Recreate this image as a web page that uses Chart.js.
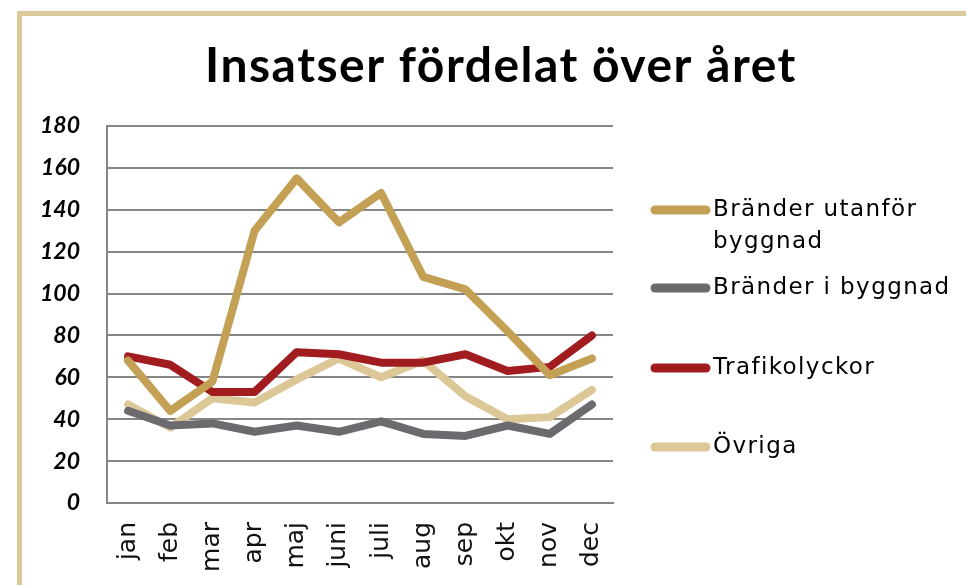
<!DOCTYPE html>
<html><head><meta charset="utf-8">
<script src="https://cdn.jsdelivr.net/npm/chart.js@4"></script>
<style>
html,body{margin:0;padding:0;background:#fff;overflow:hidden;}
#wrap{position:relative;width:966px;height:585px;}
#frame{position:absolute;left:17px;top:11px;width:1000px;height:700px;border-left:5px solid #DDCA9B;border-top:5px solid #DDCA9B;}
canvas{position:absolute;left:0;top:0;}
</style></head>
<body><div id="wrap"><div id="frame"></div><canvas id="c" width="966" height="585"></canvas></div>
<script>
const titleText = 'Insatser fördelat över året';
const months = ['jan','feb','mar','apr','maj','juni','juli','aug','sep','okt','nov','dec'];
const utanfor = [68,44,58,130,155,134,148,108,102,82,61,69];
const iByggnad = [44,37,38,34,37,34,39,33,32,37,33,47];
const trafik = [70,66,53,53,72,71,67,67,71,63,65,80];
const ovriga = [47,36,50,48,59,69,60,68,51,40,41,54];
const seriesNames = [['Bränder utanför','byggnad'],['Bränder i byggnad'],['Trafikolyckor'],['Övriga']];
const seriesColors = ['#C4A055','#6B6B6F','#A11C1F','#DCC796'];
const yTicks = [0,20,40,60,80,100,120,140,160,180];

const TFONT = "'Lato','DejaVu Sans',sans-serif";
const LFONT = "'DejaVu Sans',sans-serif";

const decorPlugin = {
  id:'decor',
  afterDraw(chart){
    const ctx = chart.ctx;
    // title
    ctx.save();
    ctx.fillStyle = '#000';
    ctx.font = "bold 48px " + TFONT;
    ctx.letterSpacing = '1.5px';
    ctx.textAlign = 'center';
    ctx.textBaseline = 'alphabetic';
    ctx.fillText(chart.options.plugins.customTitle.text, 501, 82);
    ctx.restore();
    // legend
    const ys = [210,288,368,447];
    chart.data.datasets.forEach((ds,i)=>{
      const y = ys[i];
      ctx.save();
      ctx.strokeStyle = ds.borderColor;
      ctx.lineWidth = 9;
      ctx.lineCap = 'round';
      ctx.beginPath(); ctx.moveTo(655,y); ctx.lineTo(706,y); ctx.stroke();
      ctx.fillStyle = '#000';
      ctx.font = "23px " + LFONT;
      ctx.letterSpacing = '1.4px';
      ctx.textBaseline = 'middle';
      ctx.textAlign = 'left';
      const lines = Array.isArray(ds.label) ? ds.label : [ds.label];
      lines.forEach((t,k)=> ctx.fillText(t, 713, y + k*32));
      ctx.restore();
    });
  }
};

const mk = (i,data)=>({label:seriesNames[i],data,borderColor:seriesColors[i],backgroundColor:seriesColors[i],borderWidth:8,pointRadius:0,borderCapStyle:'round',borderJoinStyle:'round',tension:0,fill:false});

new Chart(document.getElementById('c'),{
  type:'line',
  data:{labels:months,datasets:[mk(0,utanfor),mk(1,iByggnad),mk(2,trafik),mk(3,ovriga)]},
  options:{
    responsive:false,animation:false,
    layout:{padding:{left:0,right:353,top:126,bottom:0}},
    plugins:{
      legend:{display:false},tooltip:{enabled:false},title:{display:false},
      customTitle:{text:titleText}
    },
    scales:{
      x:{
        offset:true,
        grid:{display:false,drawTicks:false},
        border:{display:true,color:'#868686',width:2},
        ticks:{color:'#111',font:{family:LFONT,size:25},minRotation:90,maxRotation:90,padding:19},
        afterFit(s){s.height=82;}
      },
      y:{
        min:0,max:180,
        afterBuildTicks(s){s.ticks=yTicks.map(v=>({value:v}));},
        grid:{color:'#868686',lineWidth:2,drawTicks:false},
        border:{display:true,color:'#868686',width:2},
        ticks:{color:'#000',font:{family:TFONT,size:23,weight:'bold',style:'italic'},padding:27},
        afterFit(s){s.width=107;}
      }
    }
  },
  plugins:[decorPlugin]
});
</script></body></html>
